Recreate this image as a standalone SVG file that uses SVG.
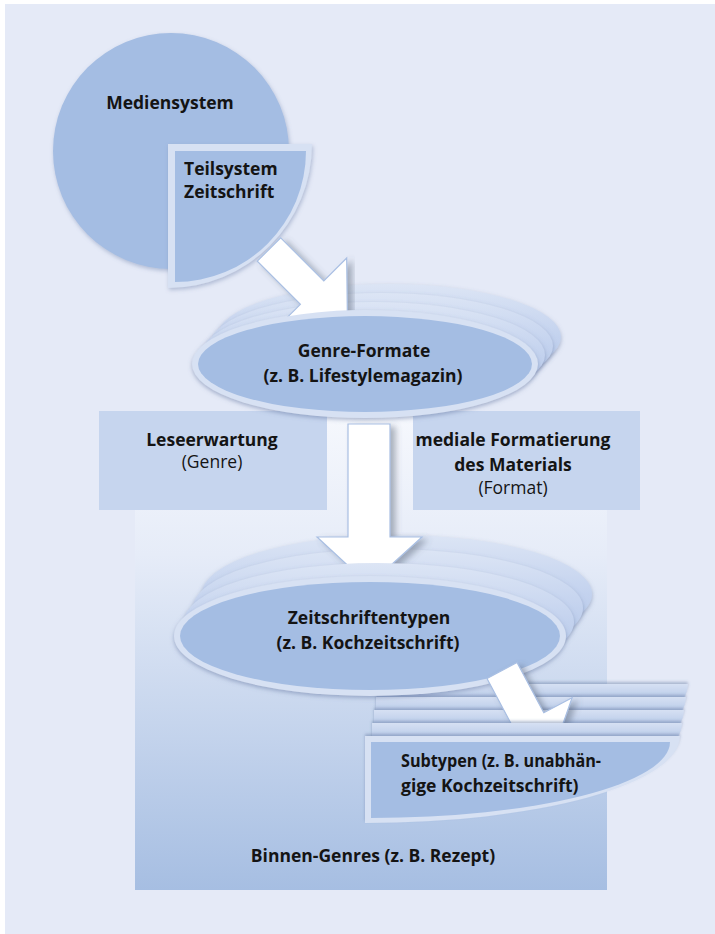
<svg xmlns="http://www.w3.org/2000/svg" width="715" height="934" viewBox="0 0 715 934">
<defs>
<style>
.t{font-family:"Open Sans",Lato,"Liberation Sans",sans-serif;font-size:17.5px;fill:#141414;font-weight:bold}
.r{font-weight:normal}
.c{text-anchor:middle}
.arrow{fill:#ffffff;stroke:#A9BFE3;stroke-width:1.2}
.blue{fill:#A4BDE3}
.rim{fill:#D7E1F3}
.ring{fill:url(#ringGrad)}
.layer{fill:url(#layerGrad)}
.box{fill:#C6D5EE}
</style>
<linearGradient id="bottomGrad" x1="0" y1="0" x2="0" y2="1">
<stop offset="0" stop-color="#F6F8FD"/>
<stop offset="0.3" stop-color="#E6ECF8"/>
<stop offset="1" stop-color="#A6BEE2"/>
</linearGradient>
<linearGradient id="ringGrad" x1="0" y1="0" x2="0" y2="1">
<stop offset="0" stop-color="#DCE5F5"/>
<stop offset="0.5" stop-color="#C3D2EE"/>
<stop offset="1" stop-color="#AFC3E6"/>
</linearGradient>
<linearGradient id="layerGrad" x1="0" y1="0" x2="0" y2="1">
<stop offset="0" stop-color="#D6E0F3"/>
<stop offset="0.15" stop-color="#BCCDEA"/>
<stop offset="1" stop-color="#AFC3E6"/>
</linearGradient>
<filter id="soft" x="-20%" y="-20%" width="140%" height="140%">
<feDropShadow dx="1" dy="2" stdDeviation="2" flood-color="#6A7FA8" flood-opacity="0.45"/>
</filter>
<filter id="ringSh" x="-20%" y="-20%" width="140%" height="140%">
<feDropShadow dx="0" dy="2" stdDeviation="2" flood-color="#5E739E" flood-opacity="0.5"/>
</filter>
<filter id="upSh" x="-20%" y="-30%" width="140%" height="160%">
<feDropShadow dx="0" dy="-2" stdDeviation="1.5" flood-color="#5E739E" flood-opacity="0.45"/>
</filter>
<filter id="arrSh" x="-30%" y="-30%" width="160%" height="160%">
<feDropShadow dx="5" dy="3" stdDeviation="3" flood-color="#505A6E" flood-opacity="0.45"/>
</filter>
<clipPath id="clipA1"><path d="M230,200 H355 V310.1 A173,54 0 0 0 230,332 Z"/></clipPath>
<clipPath id="clipA2"><path d="M300,400 H440 V566 A195,59 0 0 0 300,568.1 Z"/></clipPath>
</defs>

<rect x="5" y="4" width="710" height="930" fill="#E5EAF7"/>

<g id="binnen-genres">
<rect x="135" y="411" width="472" height="479" fill="url(#bottomGrad)"/>
<text class="t c" x="373" y="862">Binnen-Genres (z. B. Rezept)</text>
</g>

<g id="leseerwartung">
<rect class="box" x="99" y="411" width="228" height="99"/>
<text class="t c" x="212" y="446">Leseerwartung</text>
<text class="t r c" x="212" y="468">(Genre)</text>
</g>

<g id="formatierung">
<rect class="box" x="413" y="411" width="227" height="99"/>
<text class="t c" x="513" y="446">mediale Formatierung</text>
<text class="t c" x="513" y="471">des Materials</text>
<text class="t r c" x="513" y="494">(Format)</text>
</g>

<g id="mediensystem">
<circle class="blue" cx="171" cy="151" r="118" filter="url(#soft)"/>
<text class="t c" x="170" y="109">Mediensystem</text>
</g>

<g id="teilsystem">
<path class="rim" d="M168,144 H312 A144,144 0 0 1 168,288 Z" filter="url(#soft)"/>
<path class="blue" d="M175,151 H306 A131,131 0 0 1 175,282 Z"/>
<text class="t" x="184" y="175">Teilsystem</text>
<text class="t" x="184" y="198">Zeitschrift</text>
</g>

<g id="genre-formate">
<ellipse class="ring" cx="389" cy="337" rx="172" ry="53" filter="url(#ringSh)"/>
<ellipse class="ring" cx="381" cy="346" rx="172" ry="53" filter="url(#ringSh)"/>
<ellipse class="ring" cx="373" cy="355" rx="172" ry="53" filter="url(#ringSh)"/>
<ellipse class="rim" cx="365" cy="364" rx="173" ry="54" filter="url(#ringSh)"/>
<ellipse class="blue" cx="365" cy="364" rx="167" ry="48"/>
<text class="t c" x="364" y="357">Genre-Formate</text>
<text class="t c" x="363" y="382">(z. B. Lifestylemagazin)</text>
</g>

<g id="subtypen-stack">
<path class="layer" filter="url(#upSh)" d="M378,684 H688 A313,87 0 0 1 378,771 Z"/>
<path class="layer" filter="url(#upSh)" d="M376,697 H686 A313,87 0 0 1 376,784 Z"/>
<path class="layer" filter="url(#upSh)" d="M374,710 H684 A313,87 0 0 1 374,797 Z"/>
</g>

<g id="zeitschriftentypen">
<ellipse class="ring" cx="397" cy="594" rx="195" ry="59" filter="url(#ringSh)"/>
<ellipse class="ring" cx="388" cy="608" rx="195" ry="59" filter="url(#ringSh)"/>
<ellipse class="ring" cx="379" cy="622" rx="195" ry="59" filter="url(#ringSh)"/>
<ellipse class="rim" cx="370" cy="636" rx="196" ry="60" filter="url(#ringSh)"/>
<ellipse class="blue" cx="370" cy="636" rx="190" ry="54"/>
<text class="t c" x="369" y="624">Zeitschriftentypen</text>
<text class="t c" x="368" y="649">(z. B. Kochzeitschrift)</text>
</g>

<g id="connectors">
<g clip-path="url(#clipA1)"><polygon class="arrow" filter="url(#arrSh)" points="280.7,237.8 323.8,280.9 346.7,258 347.5,328 277.5,327.2 300.4,304.3 257.3,261.2"/></g>
<g clip-path="url(#clipA2)"><polygon class="arrow" filter="url(#arrSh)" points="348,424 390,424 390,537 422,537 369,585 317,537 348,537"/></g>
<polygon class="arrow" filter="url(#arrSh)" points="517,662.5 543.8,712.8 572.1,697.8 550,760.6 485.5,743.8 513.8,728.8 487,678.5"/>
</g>

<g id="subtypen">
<path class="layer" filter="url(#upSh)" d="M372,723 H682 A313,87 0 0 1 372,810 Z"/>
<path class="rim" filter="url(#upSh)" d="M365,736 H680 A315,87 0 0 1 365,823 Z"/>
<path class="blue" d="M371,742 H670 A299,76 0 0 1 371,818 Z"/>
<text class="t" x="401" y="767" textLength="200" lengthAdjust="spacingAndGlyphs">Subtypen (z. B. unabhän-</text>
<text class="t" x="401" y="792">gige Kochzeitschrift)</text>
</g>
</svg>
